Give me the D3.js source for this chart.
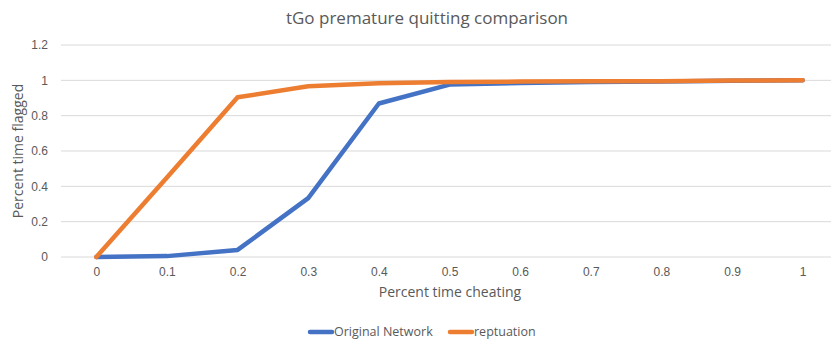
<!DOCTYPE html>
<html>
<head>
<meta charset="utf-8">
<script src="https://cdn.jsdelivr.net/npm/d3@7"></script>
<style>
  body { margin: 0; background: #fff; }
  svg { font-family: "Open Sans", "Segoe UI", sans-serif; }
  .tick text { fill: #595959; font-size: 12px; }
</style>
</head>
<body>
<svg id="chart" width="831" height="344"></svg>
<script>
var categories = ["0", "0.1", "0.2", "0.3", "0.4", "0.5", "0.6", "0.7", "0.8", "0.9", "1"]
var originalNetwork = [0, 0.005, 0.04, 0.333, 0.869, 0.976, 0.985, 0.99, 0.993, 0.998, 1.0]
var reptuation = [0, 0.45, 0.904, 0.966, 0.983, 0.99, 0.993, 0.995, 0.995, 0.999, 1.0]
var yTicks = [0, 0.2, 0.4, 0.6, 0.8, 1, 1.2]

var series = [
    {name: "Original Network", values: originalNetwork, color: "#4472C4"},
    {name: "reptuation", values: reptuation, color: "#ED7D31"}
]

var margin = {left: 61, top: 45, right: -7, bottom: 87}
var graph = {width: 831 - margin.left - margin.right, height: 344 - margin.top - margin.bottom}

var svg = d3.select("#chart")
var target = svg.append("g")
    .attr("transform", "translate(" + margin.left + "," + margin.top + ")")

var xScale = d3.scalePoint()
    .domain(categories)
    .range([0, graph.width])
    .padding(0.5)

var yScale = d3.scaleLinear()
    .domain([0, 1.2])
    .range([graph.height, 0])

// gridlines
target.append("g")
    .selectAll("line")
    .data(yTicks)
    .enter()
    .append("line")
        .attr("x1", 0)
        .attr("x2", graph.width)
        .attr("y1", d => yScale(d))
        .attr("y2", d => yScale(d))
        .attr("stroke", "#d9d9d9")
        .attr("stroke-width", 1)

var yAxis = d3.axisLeft(yScale).tickValues(yTicks).tickSize(0).tickPadding(13)
    .tickFormat(d => d3.format("")(+d.toFixed(1)))
target.append("g").attr("class", "axis-y").call(yAxis)
    .call(g => g.select(".domain").remove())

var xAxis = d3.axisBottom(xScale).tickSize(0).tickPadding(10)
target.append("g").attr("class", "axis-x")
    .attr("transform", "translate(0," + graph.height + ")")
    .call(xAxis)
    .call(g => g.select(".domain").remove())

var line = d3.line()
    .x((d, i) => xScale(categories[i]))
    .y(d => yScale(d))

target.selectAll("path.series")
    .data(series)
    .enter()
    .append("path")
        .attr("class", "series")
        .attr("fill", "none")
        .attr("stroke", d => d.color)
        .attr("stroke-width", 4.5)
        .attr("stroke-linejoin", "round")
        .attr("stroke-linecap", "round")
        .attr("d", d => line(d.values))

// labels
svg.append("text")
    .text("tGo premature quitting comparison")
    .attr("x", 427)
    .attr("y", 24)
    .attr("text-anchor", "middle")
    .style("font-size", "17px")
    .style("fill", "#595959")

svg.append("text")
    .text("Percent time cheating")
    .attr("x", 450)
    .attr("y", 297)
    .attr("text-anchor", "middle")
    .style("font-size", "14px")
    .style("fill", "#595959")

svg.append("text")
    .text("Percent time flagged")
    .attr("transform", "translate(23,151) rotate(-90)")
    .attr("text-anchor", "middle")
    .style("font-size", "14px")
    .style("fill", "#595959")

// legend
var legendX = [310, 450]
var legend = svg.selectAll("g.legend")
    .data(series)
    .enter()
    .append("g")
        .attr("class", "legend")
        .attr("transform", (d, i) => "translate(" + legendX[i] + ",332)")
legend.append("line")
    .attr("x1", 0).attr("x2", 22)
    .attr("stroke", d => d.color)
    .attr("stroke-width", 4.5)
    .attr("stroke-linecap", "round")
legend.append("text")
    .attr("x", 24)
    .attr("dy", "0.35em")
    .style("font-size", "12.5px")
    .style("fill", "#595959")
    .text(d => d.name)
</script>
</body>
</html>
